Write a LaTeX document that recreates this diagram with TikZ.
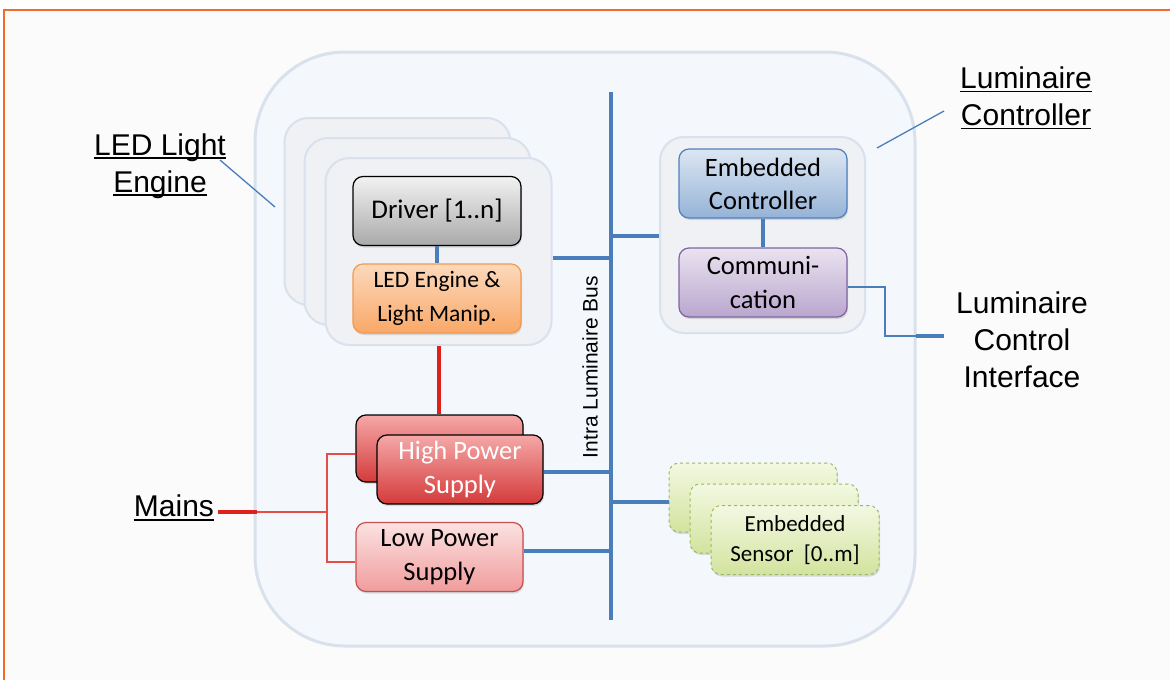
\documentclass[tikz,border=0pt]{standalone}
\usepackage{fontspec}
\setmainfont{Carlito}
\newfontfamily\arialf{Liberation Sans}
\usetikzlibrary{shadows}
\newcommand\myul[1]{\setbox0\hbox{#1}\rlap{\rule[-4pt]{\wd0}{1.8pt}}\box0}
\definecolor{bgc}{HTML}{FBFBFB}
\definecolor{framec}{HTML}{F26B2A}
\definecolor{outerfill}{HTML}{F4F7FB}
\definecolor{outerdraw}{HTML}{D9E1EC}
\definecolor{panelfill}{HTML}{EFF1F4}
\definecolor{busblue}{HTML}{4A7EBB}
\definecolor{redline}{HTML}{E0201A}
\definecolor{drvtop}{HTML}{F2F2F2}
\definecolor{drvbot}{HTML}{A9A9A9}
\definecolor{ledtop}{HTML}{FCD9BC}
\definecolor{ledbot}{HTML}{F9A868}
\definecolor{leddraw}{HTML}{F29A50}
\definecolor{ectop}{HTML}{DCE6F2}
\definecolor{ecbot}{HTML}{95B3D7}
\definecolor{ecdraw}{HTML}{4F81BD}
\definecolor{comtop}{HTML}{EAE3F0}
\definecolor{combot}{HTML}{B9A6CD}
\definecolor{comdraw}{HTML}{8064A2}
\definecolor{hptop}{HTML}{F5A8A8}
\definecolor{hpbot}{HTML}{D43A3A}
\definecolor{lptop}{HTML}{FCE2E2}
\definecolor{lpbot}{HTML}{F09C9C}
\definecolor{lpdraw}{HTML}{C8504D}
\definecolor{sntop}{HTML}{F3F8E2}
\definecolor{snbot}{HTML}{D3E39E}
\definecolor{sndraw}{HTML}{9BBB59}
\tikzset{
  box/.style={rounded corners=10pt, minimum width=168pt, minimum height=69pt,
    align=center, inner sep=2pt, line width=1.2pt,
    drop shadow={opacity=0.25, shadow xshift=1pt, shadow yshift=-2pt}},
  drvbox/.style={box, draw=black, top color=drvtop, bottom color=drvbot,
    font=\fontsize{27}{33}\selectfont},
  ledbox/.style={box, draw=leddraw, top color=ledtop, bottom color=ledbot,
    font=\fontsize{23.5}{34}\selectfont},
  ecbox/.style={box, draw=ecdraw, top color=ectop, bottom color=ecbot,
    font=\fontsize{26.5}{33}\selectfont},
  combox/.style={box, draw=comdraw, top color=comtop, bottom color=combot,
    font=\fontsize{26.5}{34}\selectfont},
  hpbox/.style={box, draw=black, top color=hptop, bottom color=hpbot,
    text=white, font=\fontsize{26.5}{34}\selectfont},
  lpbox/.style={box, draw=lpdraw, top color=lptop, bottom color=lpbot,
    font=\fontsize{26.5}{34}\selectfont},
  snbox/.style={box, draw=sndraw, dashed, line width=1pt, top color=sntop, bottom color=snbot,
    font=\fontsize{23}{30}\selectfont},
  panel/.style={rounded corners=24pt, draw=outerdraw, fill=panelfill, line width=2pt,
    minimum width=226pt, minimum height=187pt},
  busline/.style={busblue, line width=4pt},
  thinblue/.style={busblue, line width=1.3pt},
  redthick/.style={redline, line width=4pt},
  redthin/.style={redline!80, line width=1.2pt},
  lbl/.style={font=\arialf\fontsize{30}{37}\selectfont, align=center},
}
\begin{document}
\begin{tikzpicture}[x=1pt,y=-1pt]
\useasboundingbox (0,0) rectangle (1170,680);
\fill[white] (0,0) rectangle (1170,680);
\fill[bgc] (4,10) rectangle (1170,680);
\draw[framec, line width=1.5pt] (4,680) -- (4,10) -- (1170,10);

% luminaire outline
\draw[outerdraw, fill=outerfill, line width=3pt, rounded corners=90pt] (255,52) rectangle (915,646);

% LED light engine panels
\node[panel] (p1) at (397.5,211.5) {};
\node[panel] (p2) at (417.5,231.5) {};
\node[panel] (p3) at (438.5,251.5) {};
\node[drvbox] (drv) at (437,211) {Driver [1..n]};
\node[ledbox] (led) at (437,298.5) {LED Engine \&\\Light Manip.};

% controller panel
\node[panel, minimum width=205pt, minimum height=196pt] (cp) at (762.5,235) {};
\node[ecbox] (ec) at (763,183.5) {Embedded\\Controller};
\node[combox] (com) at (763,282.5) {Communi-\\cation};

% power supplies
\node[hpbox, minimum width=167pt, minimum height=67pt] (hpb) at (439.5,448.5) {};
\node[hpbox, minimum width=166pt] (hps) at (460,469.5) {High Power\\Supply};
\node[lpbox, minimum width=167pt] (lps) at (439.5,557) {Low Power\\Supply};

% sensors
\node[snbox] (s1) at (753,497.5) {};
\node[snbox] (s2) at (774,518.5) {};
\node[snbox] (s3) at (795,540) {Embedded\\Sensor~ [0..m]};

% bus
\coordinate (bt) at (611,92);
\coordinate (bb) at (611,620);
\coordinate (b1) at (611,236);
\coordinate (b2) at (611,258);
\coordinate (b3) at (611,472);
\coordinate (b4) at (611,502);
\coordinate (b5) at (611,551);
\draw[busline] (bt) -- (bb);
\node[font=\arialf\fontsize{21}{25}\selectfont, rotate=90] (buslbl) at (590,367) {Intra Luminaire Bus};
\draw[busline] (b1) -- (cp.west |- b1);
\draw[busline] (b2) -- (p3.east |- b2);
\draw[busline] (b3) -- (hps.east |- b3);
\draw[busline] (b4) -- (s1.west |- b4);
\draw[busline] (b5) -- (lps.east |- b5);
\draw[busline] (drv) -- (led);
\draw[busline] (ec) -- (com);

% red power line
\draw[redthick] (p3.south) -- (p3.south |- hpb.north);

% mains
\node[lbl] (mains) at (174,508) {\myul{Mains}};
\coordinate (m1) at (218,512);
\coordinate (m2) at (257,512);
\coordinate (mv) at (327,512);
\draw[redthick] (m1) -- (m2);
\draw[redthin] (m2) -- (mv);
\draw[redthin] ([yshift=-5.5pt]hpb.west) -| (mv) |- ([yshift=-5pt]lps.west);

% control interface
\coordinate (c1) at (885,287);
\coordinate (c2) at (916,336);
\coordinate (c3) at (944,336);
\draw[thinblue] ([yshift=-4.5pt]com.east) -- (c1) |- (c2);
\draw[busline] (c2) -- (c3);
\node[lbl] (lci) at (1022,339.5) {Luminaire\\Control\\Interface};

% labels
\node[lbl] (lle) at (160,166) {\myul{LED Light}\\\myul{Engine}};
\node[lbl] (lc) at (1026,98) {\myul{Luminaire}\\\myul{Controller}};
\coordinate (l1) at (220,160);
\coordinate (l2) at (275,207);
\coordinate (l3) at (944,111);
\coordinate (l4) at (877,148);
\draw[thinblue] (l1) -- (l2);
\draw[thinblue] (l3) -- (l4);
\end{tikzpicture}
\end{document}
